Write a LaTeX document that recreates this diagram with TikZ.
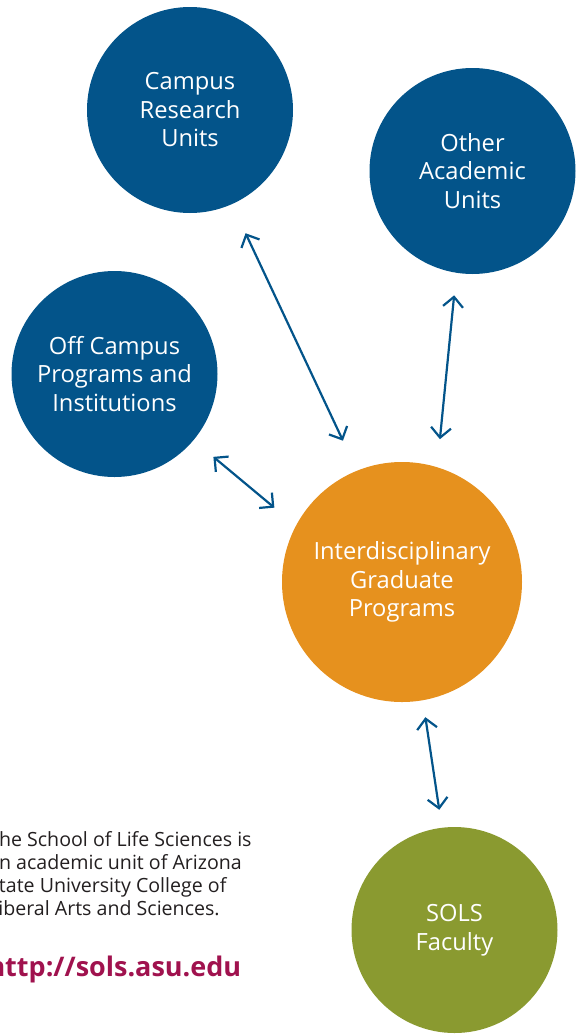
\documentclass[tikz,border=0pt]{standalone}
\usepackage{fontspec}
\setsansfont{Open Sans}
\usetikzlibrary{arrows.meta}
\definecolor{asublue}{HTML}{03548A}
\definecolor{asuorange}{HTML}{E6911E}
\definecolor{asugreen}{HTML}{8A9A30}
\definecolor{asumaroon}{HTML}{A0124E}
\definecolor{asutext}{HTML}{231F20}
\begin{document}
\begin{tikzpicture}[x=1pt,y=-1pt,
   font=\sffamily,
   unit/.style={circle,fill=asublue,text=white,inner sep=0pt,minimum size=206pt,align=center,font=\sffamily\fontsize{23.7}{28.5}\selectfont},
   hub/.style={unit,fill=asuorange,minimum size=240pt},
   base/.style={unit,fill=asugreen},
   link/.style={{Straight Barb[length=10pt,width=20pt]}-{Straight Barb[length=10pt,width=20pt]},line width=2.2pt,draw=asublue},
   note/.style={anchor=base west,align=left,text=asutext,inner sep=0pt,font=\sffamily\fontsize{19.6}{23}\selectfont},
   url/.style={anchor=base west,inner sep=0pt,text=asumaroon,font=\sffamily\bfseries\fontsize{27}{32}\selectfont}]
\clip (0,0) rectangle (576,1034);
\node[unit] (CRU) at (190,110) {Campus\\Research\\Units};
\node[unit] (OAU) at (472.5,171) {Other\\Academic\\Units};
\node[unit] (OCP) at (114.5,374) {Off Campus\\Programs and\\Institutions};
\node[hub] (IGP) at (402,582) {Interdisciplinary\\Graduate\\Programs};
\node[base] (SOLS) at (454.5,930) {SOLS\\Faculty};
\draw[link,shorten <=32pt,shorten >=33pt] (CRU.-66.9) to (IGP.112.7);
\draw[link,shorten <=22.5pt,shorten >=28pt] (OAU.-99) to (IGP.73);
\draw[link,shorten <=25.8pt,shorten >=28pt] (OCP.-40.1) to (IGP.152);
\draw[link,shorten <=17pt,shorten >=18pt] (IGP.-80.3) to (SOLS.97.4);
\node[note] (about) at (-12,915) {The School of Life Sciences is\\an academic unit of Arizona\\State University College of\\Liberal Arts and Sciences.};
\node[url] (web) at (-12.7,976) {http://sols.asu.edu};
\end{tikzpicture}
\end{document}
